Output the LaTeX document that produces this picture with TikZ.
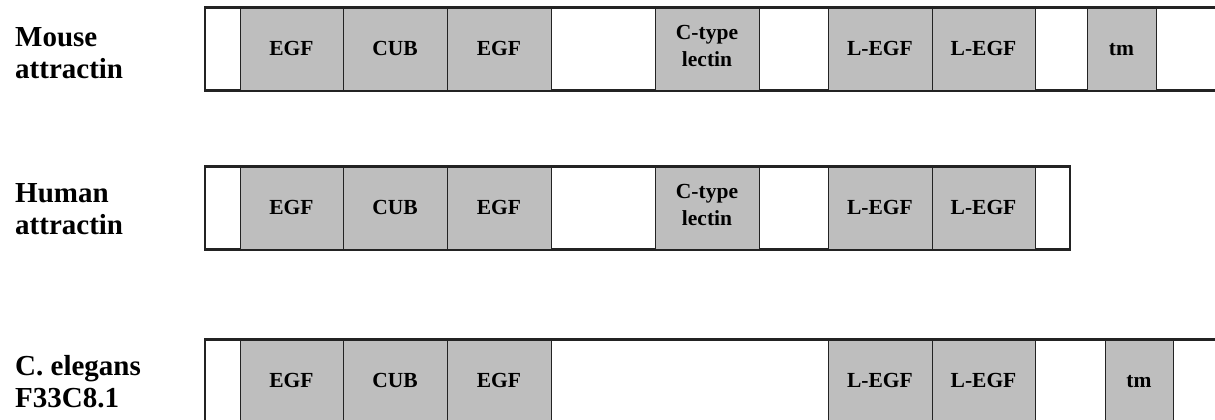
\documentclass[tikz,border=0pt]{standalone}
\usepackage{fontspec}
\setmainfont{Liberation Serif}
\definecolor{domaingrey}{RGB}{190,190,190}
\definecolor{edgeink}{RGB}{35,35,35}
\begin{document}
\begin{tikzpicture}[x=1bp,y=-1bp,
  chainbox/.style={draw=edgeink, line width=1.6bp, fill=white, inner sep=0pt,
    minimum height=82bp},
  chainline/.style={draw=edgeink, line width=1.6bp},
  greybox/.style={draw=edgeink, line width=0.9bp, fill=domaingrey, inner sep=0pt,
    minimum height=82bp, font=\bfseries\fontsize{21.5bp}{26bp}\selectfont},
  motif/.style={greybox, text height=15bp, text depth=3bp},
  lectinlabel/.style={inner sep=0pt, align=center,
    font=\bfseries\fontsize{21.5bp}{27bp}\selectfont},
  species/.style={anchor=base west, inner sep=0pt,
    font=\bfseries\fontsize{29bp}{32bp}\selectfont}]

\clip (0,0) rectangle (1215,419);

% ---------- Mouse attractin ----------
\node[species] (mouseA) at (15,46) {Mouse};
\node[species] (mouseB) at (15,78) {attractin};
\node[chainbox, minimum width=1025bp] (mchain) at (717.5,49) {};
\node[motif, minimum width=103bp] (megf1) at (291.5,49) {EGF};
\node[motif, minimum width=104bp] (mcub)  at (395,49)   {CUB};
\node[motif, minimum width=104bp] (megf2) at (499,49)   {EGF};
\node[greybox, minimum width=104bp] (mlec) at (707,49)  {};
\node[lectinlabel] (mlectxt) at ([yshift=3bp]mlec.center) {C-type\\lectin};
\node[motif, minimum width=104bp] (mlegf1) at (880,49)  {L-EGF};
\node[motif, minimum width=103bp] (mlegf2) at (983.5,49) {L-EGF};
\node[motif, minimum width=69bp]  (mtm)   at (1121.5,49) {tm};
\draw[chainline] (mchain.north west) -- (mchain.north east);
\draw[chainline] (mchain.south west) -- (mchain.south east);

% ---------- Human attractin ----------
\node[species] (humanA) at (15,202) {Human};
\node[species] (humanB) at (15,234) {attractin};
\node[chainbox, minimum width=865bp] (hchain) at (637.5,208) {};
\node[motif, minimum width=103bp] (hegf1) at (291.5,208) {EGF};
\node[motif, minimum width=104bp] (hcub)  at (395,208)   {CUB};
\node[motif, minimum width=104bp] (hegf2) at (499,208)   {EGF};
\node[greybox, minimum width=104bp] (hlec) at (707,208)  {};
\node[lectinlabel] (hlectxt) at ([yshift=3bp]hlec.center) {C-type\\lectin};
\node[motif, minimum width=104bp] (hlegf1) at (880,208)  {L-EGF};
\node[motif, minimum width=103bp] (hlegf2) at (983.5,208) {L-EGF};
\draw[chainline] (hchain.north west) -- (hchain.north east);
\draw[chainline] (hchain.south west) -- (hchain.south east);

% ---------- C. elegans F33C8.1 ----------
\node[species] (wormA) at (15,375) {C. elegans};
\node[species] (wormB) at (15,407) {F33C8.1};
\node[chainbox, minimum width=1025bp] (cchain) at (717.5,381) {};
\node[motif, minimum width=103bp] (cegf1) at (291.5,381) {EGF};
\node[motif, minimum width=104bp] (ccub)  at (395,381)   {CUB};
\node[motif, minimum width=104bp] (cegf2) at (499,381)   {EGF};
\node[motif, minimum width=104bp] (clegf1) at (880,381)  {L-EGF};
\node[motif, minimum width=103bp] (clegf2) at (983.5,381) {L-EGF};
\node[motif, minimum width=68bp]  (ctm)   at (1139,381)  {tm};
\draw[chainline] (cchain.north west) -- (cchain.north east);
\end{tikzpicture}
\end{document}
